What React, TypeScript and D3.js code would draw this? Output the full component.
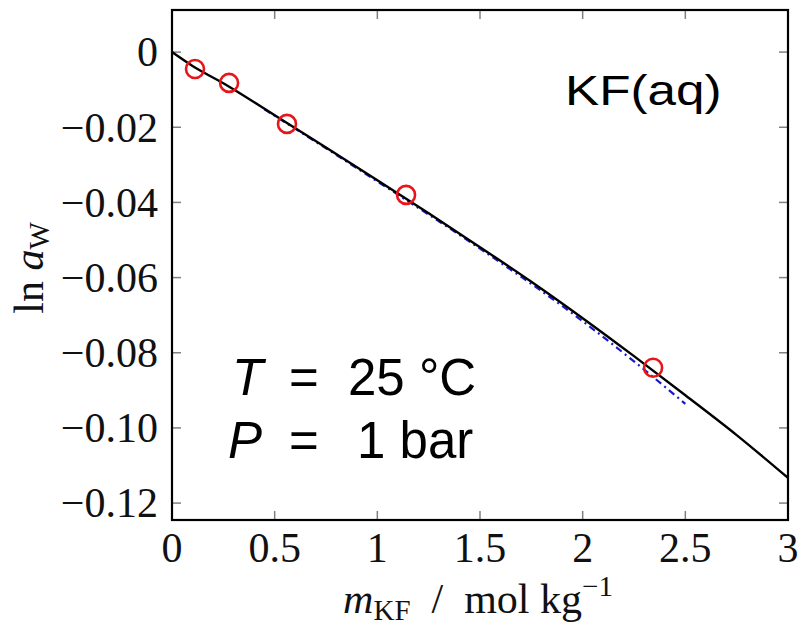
import React from "react";
import * as d3 from "d3";

// Model curve (black solid line)
const modelM = [0, 0.1, 0.25, 0.5, 0.75, 1, 1.25, 1.5, 1.75, 2, 2.25, 2.5, 2.75, 3];
const modelLnA = [0, -0.0037, -0.0083, -0.0168, -0.0254, -0.0341, -0.0429, -0.0519, -0.0611, -0.0708, -0.0809, -0.0913, -0.1019, -0.1133];

// Alternative curve (blue dash-dot)
const altM = [0.45, 0.75, 1.0, 1.5, 2.0, 2.25, 2.5];
const altLnA = [-0.0152, -0.0256, -0.0344, -0.0523, -0.0716, -0.0823, -0.0936];

// Experimental points (red circles)
const expM = [0.112, 0.278, 0.56, 1.14, 2.343];
const expLnA = [-0.0045, -0.0082, -0.0191, -0.038, -0.084];

const xTicks = [0, 0.5, 1, 1.5, 2, 2.5, 3];
const xTickLabels = ["0", "0.5", "1", "1.5", "2", "2.5", "3"];
const yTicks = [0, -0.02, -0.04, -0.06, -0.08, -0.1, -0.12];
const yTickLabels = ["0", "\u22120.02", "\u22120.04", "\u22120.06", "\u22120.08", "\u22120.10", "\u22120.12"];

const W = 799;
const H = 627;
const left = 172;
const right = 788;
const top = 10;
const bottom = 520;

export default function App() {
  const x = d3.scaleLinear().domain([0, 3]).range([left, right]);
  const y = d3.scaleLinear().domain([-0.1245, 0.0112]).range([bottom, top]);

  const line = d3
    .line<[number, number]>()
    .x((d) => x(d[0]))
    .y((d) => y(d[1]))
    .curve(d3.curveMonotoneX);

  const modelPath = line(modelM.map((m, i) => [m, modelLnA[i]]) as [number, number][]) || "";
  const altPath = line(altM.map((m, i) => [m, altLnA[i]]) as [number, number][]) || "";

  const serif = "'Liberation Serif', 'Times New Roman', serif";
  const sans = "'Liberation Sans', Arial, sans-serif";
  const tickLen = 9;
  const tickColor = "#808080";

  return (
    <svg
      width={W}
      height={H}
      style={{ position: "absolute", left: 0, top: 0, background: "#fff" }}
    >
      <rect x={0} y={0} width={W} height={H} fill="#fff" />
      <defs>
        <clipPath id="plotclip">
          <rect x={left} y={top} width={right - left} height={bottom - top} />
        </clipPath>
      </defs>

      {/* ticks */}
      {xTicks.map((t, i) => (
        <g key={"xt" + i}>
          <line x1={x(t)} x2={x(t)} y1={bottom} y2={bottom - tickLen} stroke={tickColor} strokeWidth={1.5} />
          <line x1={x(t)} x2={x(t)} y1={top} y2={top + tickLen} stroke={tickColor} strokeWidth={1.5} />
          <text
            x={x(t)}
            y={562}
            textAnchor="middle"
            fontFamily={serif}
            fontSize={42}
            fill="#111"
          >
            {xTickLabels[i]}
          </text>
        </g>
      ))}
      {yTicks.map((t, i) => (
        <g key={"yt" + i}>
          <line x1={left} x2={left + tickLen} y1={y(t)} y2={y(t)} stroke={tickColor} strokeWidth={1.5} />
          <line x1={right} x2={right - tickLen} y1={y(t)} y2={y(t)} stroke={tickColor} strokeWidth={1.5} />
          <text
            x={158}
            y={y(t)}
            dy="0.34em"
            textAnchor="end"
            fontFamily={serif}
            fontSize={42}
            fill="#111"
          >
            {yTickLabels[i]}
          </text>
        </g>
      ))}

      {/* curves */}
      <g clipPath="url(#plotclip)">
        <path d={altPath} fill="none" stroke="#1a1acc" strokeWidth={2.2} strokeDasharray="7,4,2,4" />
        <path d={modelPath} fill="none" stroke="#000" strokeWidth={2.4} />
      </g>

      {/* experimental points */}
      {expM.map((m, i) => (
        <circle
          key={"p" + i}
          cx={x(m)}
          cy={y(expLnA[i])}
          r={9}
          fill="none"
          stroke="#e8161b"
          strokeWidth={2.6}
        />
      ))}

      {/* frame */}
      <rect
        x={left}
        y={top}
        width={right - left}
        height={bottom - top}
        fill="none"
        stroke="#000"
        strokeWidth={2.2}
      />

      {/* annotations */}
      <text transform="translate(565,105) scale(1.22,1)" fontFamily={sans} fontSize={42} fill="#000">
        KF(aq)
      </text>
      <text x={232} y={395} fontFamily={sans} fontSize={51} fontStyle="italic" fill="#000">T</text>
      <text x={289} y={395} fontFamily={sans} fontSize={51} fill="#000">=</text>
      <text x={348} y={395} fontFamily={sans} fontSize={51} fill="#000">25 °C</text>
      <text x={228} y={458} fontFamily={sans} fontSize={51} fontStyle="italic" fill="#000">P</text>
      <text x={289} y={458} fontFamily={sans} fontSize={51} fill="#000">=</text>
      <text x={357} y={458} fontFamily={sans} fontSize={51} fill="#000">1 bar</text>

      {/* x-axis label */}
      <text x={478} y={613} textAnchor="middle" fontFamily={serif} fontSize={42} fill="#111">
        <tspan fontStyle="italic">m</tspan>
        <tspan fontSize={29} dy={7}>KF</tspan>
        <tspan dy={-7}>{"\u2002/\u2002mol kg"}</tspan>
        <tspan fontSize={29} dy={-17}>{"\u22121"}</tspan>
      </text>

      {/* y-axis label */}
      <text
        transform="translate(43,268) rotate(-90)"
        textAnchor="middle"
        fontFamily={serif}
        fontSize={42}
        fill="#111"
      >
        <tspan>{"ln "}</tspan>
        <tspan fontStyle="italic">a</tspan>
        <tspan fontSize={29} dy={6}>W</tspan>
      </text>
    </svg>
  );
}
